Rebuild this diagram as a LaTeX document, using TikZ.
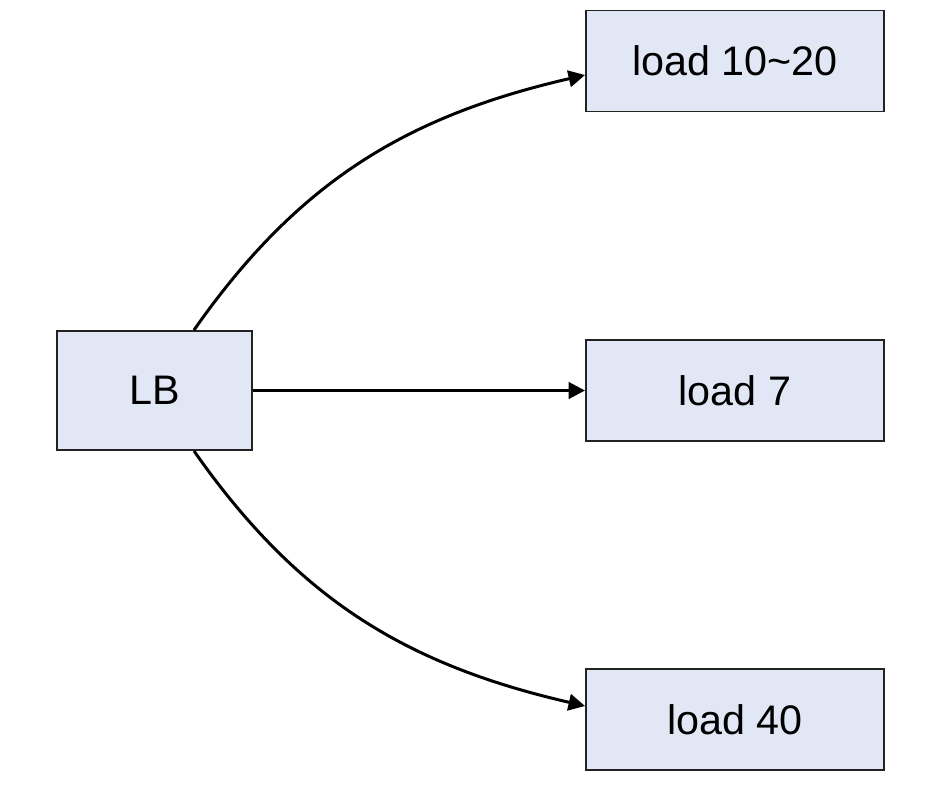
\documentclass[tikz,border=0pt]{standalone}
\usepackage{fontspec}
\setmainfont{Liberation Sans}
\usetikzlibrary{arrows.meta}
\definecolor{boxfill}{HTML}{E2E7F6}
\definecolor{boxline}{HTML}{222222}
\begin{document}
\begin{tikzpicture}[
		box/.style={draw=boxline, line width=1.1pt, fill=boxfill, minimum width=5.96cm, minimum height=2.02cm, inner sep=0pt, font=\fontsize{23.5}{28}\selectfont},
		link/.style={line width=1.7pt, -{Triangle[length=0.33cm, width=0.33cm]}}
	]
			\useasboundingbox (0,0) rectangle (18.74,15.72);
			\node[box, minimum width=3.9cm, minimum height=2.38cm] (lb) at (3.09,7.91) {LB};
			\node[box] (load1) at (14.7,14.5) {load 10\textasciitilde 20};
			\node[box] (load2) at (14.7,7.91) {load 7};
			\node[box] (load3) at (14.7,1.33) {load 40};
			\draw[link] ([xshift=0.79cm]lb.north) to[out=55, in=193] ([yshift=-0.28cm]load1.west);
			\draw[link] (lb.east) -- (load2.west);
			\draw[link] ([xshift=0.79cm]lb.south) to[out=-55, in=167] ([yshift=0.27cm]load3.west);
		\end{tikzpicture}
\end{document}
